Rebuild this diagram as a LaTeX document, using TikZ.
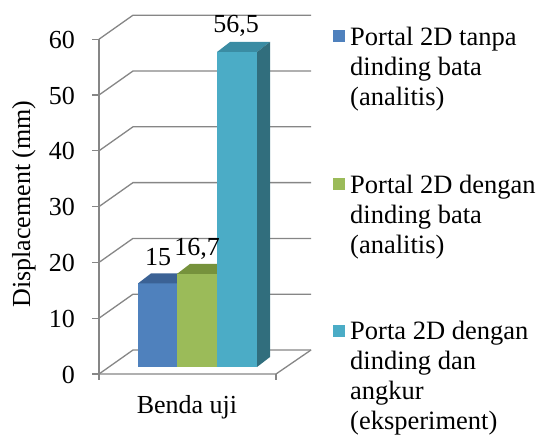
\documentclass[tikz,border=0pt]{standalone}
\usepackage{fontspec}
\setmainfont{Liberation Serif}
\usetikzlibrary{positioning}

\definecolor{gridgray}{HTML}{868686}
\definecolor{barblue}{HTML}{4F81BD}
\definecolor{topblue}{HTML}{3B6295}
\definecolor{bargreen}{HTML}{9BBB59}
\definecolor{topgreen}{HTML}{76923C}
\definecolor{barcyan}{HTML}{4BACC6}
\definecolor{topcyan}{HTML}{3A8CA3}
\definecolor{sidecyan}{HTML}{316E7D}

\begin{document}
\begin{tikzpicture}[x=1pt, y=-1pt,
    grid/.style = {draw=gridgray, line width=1.3pt},
    txt/.style = {font=\fontsize{26}{30}\selectfont, inner sep=0pt},
    legtext/.style = {font=\fontsize{26.5}{30}\selectfont, inner sep=0pt, align=left, anchor=base west},
    key/.style = {minimum size=12pt, inner sep=0pt}]
    \useasboundingbox (0,0) rectangle (538,436);

    \foreach \v [count=\i from 0] in {0,10,20,30,40,50,60} {
        \draw[grid] (99,374-55.8*\i) -- (133,350-55.8*\i) -- (311,350-55.8*\i);
        \draw[grid] (92,374-55.8*\i) -- (99,374-55.8*\i);
        \node[txt, anchor=base east] (tick\v) at (75,383-55.8*\i) {\v};
    }
    \draw[grid] (99,39) -- (99,380);
    \draw[grid] (99,374) -- (276,374) -- (311,350);
    \draw[grid] (276,374) -- (276,380);

    \fill[barblue] (138,283.4) rectangle (177,367);
    \fill[topblue] (138,283.4) -- (151,273.4) -- (190,273.4) -- (177,283.4) -- cycle;
    \fill[bargreen] (177,273.9) rectangle (217,367);
    \fill[topgreen] (177,273.9) -- (190,263.9) -- (230,263.9) -- (217,273.9) -- cycle;
    \fill[barcyan] (217,52) rectangle (257,367);
    \fill[topcyan] (217,52) -- (230,42) -- (270,42) -- (257,52) -- cycle;
    \fill[sidecyan] (257,52) -- (270,42) -- (270,357) -- (257,367) -- cycle;

    \node[txt, anchor=base] (valA) at (158,265) {15};
    \node[txt, anchor=base] (valB) at (197,255) {16,7};
    \node[txt, anchor=base] (valC) at (236,33) {56,5};

    \node[txt, rotate=90, anchor=base] (ylabel) at (30,204) {Displacement (mm)};
    \node[txt, anchor=base] (xlabel) at (187,413) {Benda uji};

    \node[key, fill=barblue] (keyA) at (339,36) {};
    \node[key, fill=bargreen] (keyB) at (339,184) {};
    \node[key, fill=barcyan] (keyC) at (339,331) {};
    \node[legtext] (legA) at (350,105) {Portal 2D tanpa\\dinding bata\\(analitis)};
    \node[legtext] (legB) at (350,253) {Portal 2D dengan\\dinding bata\\(analitis)};
    \node[legtext] (legC) at (350,429) {Porta 2D dengan\\dinding dan\\angkur\\(eksperiment)};
\end{tikzpicture}
\end{document}
